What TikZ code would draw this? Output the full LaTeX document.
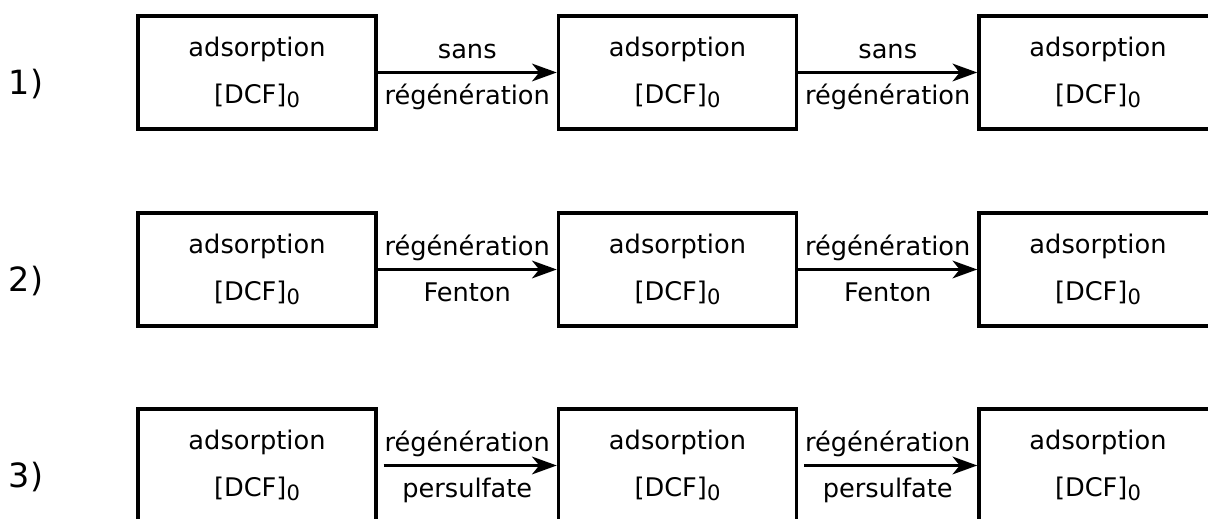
\documentclass[tikz,border=0pt]{standalone}
\usepackage{fontspec}
\setmainfont{DejaVu Sans}
\usetikzlibrary{arrows.meta}

\newcommand{\dcfzero}{[DCF]\raisebox{-0.15em}{\fontsize{12}{12}\selectfont 0}}

\begin{document}
\begin{tikzpicture}[x=0.02cm,y=-0.02cm,
    box/.style={draw,line width=2pt,minimum width=4.76cm,minimum height=2.26cm,
        align=center,inner sep=0pt,font=\fontsize{14.6}{26.7}\selectfont},
    flow/.style={line width=2pt,-{Stealth[length=14pt,width=10pt,inset=4pt]}},
    lbltop/.style={anchor=base,yshift=0.27cm,font=\fontsize{14.6}{17}\selectfont},
    lblbot/.style={anchor=base,yshift=-0.64cm,font=\fontsize{14.6}{17}\selectfont},
    rowlbl/.style={anchor=base,font=\fontsize{19}{23}\selectfont}]

    \path[use as bounding box,clip] (0,0) rectangle (1208,519);

    % 1) without regeneration
    \node[rowlbl] (r1) at (26,95) {1)};
    \node[box] (b11) at (257,72.5) {adsorption\\\dcfzero};
    \node[box] (b12) at (677.5,72.5) {adsorption\\\dcfzero};
    \node[box] (b13) at (1098,72.5) {adsorption\\\dcfzero};
    \draw[flow] (b11.east) -- node[lbltop] (s11) {sans} node[lblbot] (t11) {régénération} (b12.west);
    \draw[flow] (b12.east) -- node[lbltop] (s12) {sans} node[lblbot] (t12) {régénération} (b13.west);

    % 2) Fenton
    \node[rowlbl] (r2) at (26,292) {2)};
    \node[box] (b21) at (257,269.5) {adsorption\\\dcfzero};
    \node[box] (b22) at (677.5,269.5) {adsorption\\\dcfzero};
    \node[box] (b23) at (1098,269.5) {adsorption\\\dcfzero};
    \draw[flow] (b21.east) -- node[lbltop] (s21) {régénération} node[lblbot] (t21) {Fenton} (b22.west);
    \draw[flow] (b22.east) -- node[lbltop] (s22) {régénération} node[lblbot] (t22) {Fenton} (b23.west);

    % 3) persulfate
    \node[rowlbl] (r3) at (26,488) {3)};
    \node[box] (b31) at (257,465.5) {adsorption\\\dcfzero};
    \node[box] (b32) at (677.5,465.5) {adsorption\\\dcfzero};
    \node[box] (b33) at (1098,465.5) {adsorption\\\dcfzero};
    \draw[flow,shorten <=0.12cm] (b31.east) -- node[lbltop] (s31) {régénération} node[lblbot] (t31) {persulfate} (b32.west);
    \draw[flow,shorten <=0.12cm] (b32.east) -- node[lbltop] (s32) {régénération} node[lblbot] (t32) {persulfate} (b33.west);

\end{tikzpicture}
\end{document}
